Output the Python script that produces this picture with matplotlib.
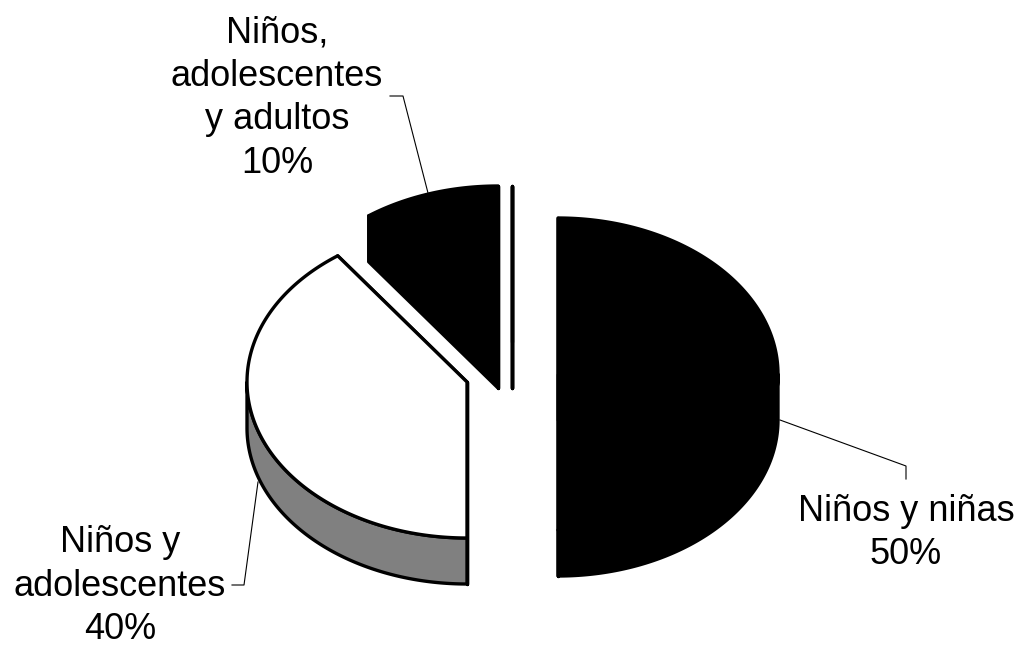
#!/usr/bin/env python3

import numpy as np
import matplotlib
matplotlib.use('Agg')
import matplotlib.pyplot as plt
from matplotlib.patches import Polygon

plt.rcParams['font.family'] = ['Liberation Sans', 'DejaVu Sans']

categories = ['Niños y niñas', 'Niños y\nadolescentes', 'Niños,\nadolescentes\ny adultos', '']
shares = [50, 40, 10, 0]

top_colors = ['black', 'white', 'black', 'black']
side_colors = ['black', '#808080', 'black', 'black']

# where each exploded slice sits on the canvas, in pixels
centers = [(558, 374), (467, 382), (498, 342), (512, 342)]
rx = 220
ry = 156
depth = 46
edge_width = 2.4


def rim(center, angles):
    # angles run clockwise from twelve o'clock
    a = np.radians(angles)
    return np.column_stack([center[0] + rx * np.sin(a), center[1] - ry * np.cos(a)])


def draw_slice(ax, center, start, end, top_color, side_color):
    down = np.array([0, depth])
    wall = dict(edgecolor='black', linewidth=edge_width, joinstyle='round')
    apex = np.array([center])

    # the two cut faces
    for angle in [start, end]:
        edge = np.vstack([apex, rim(center, [angle])])
        ax.add_patch(Polygon(np.vstack([edge, edge[::-1] + down]), facecolor=side_color, **wall))

    # the outer wall, only the part facing the viewer
    front_start = max(start, 90)
    front_end = min(end, 270)
    if front_end > front_start:
        arc = rim(center, np.linspace(front_start, front_end, 120))
        ax.add_patch(Polygon(np.vstack([arc, arc[::-1] + down]), facecolor=side_color, **wall))

    # top face
    arc = rim(center, np.linspace(start, end, 200))
    ax.add_patch(Polygon(np.vstack([apex, arc]), facecolor=top_color, edgecolor='black',
                         linewidth=edge_width, joinstyle='round'))


fig = plt.figure(figsize=(10.23, 6.46), dpi=100)
ax = fig.add_axes([0, 0, 1, 1])
ax.set_xlim(0, 1023)
ax.set_ylim(646, 0)
ax.axis('off')

start = 0
for i in range(len(shares)):
    end = start + shares[i] * 3.6
    draw_slice(ax, centers[i], start, end, top_colors[i], side_colors[i])
    start = end

# leader lines
ax.plot([780, 906, 906], [420, 466, 479], color='black', lw=0.8)
ax.plot([232, 244, 258], [585, 585, 482], color='black', lw=0.8)
ax.plot([390, 403, 428], [96, 96, 193], color='black', lw=0.8)

label_spots = [(906, 533), (120, 586), (277, 98)]
for i in range(3):
    ax.text(label_spots[i][0], label_spots[i][1], f'{categories[i]}\n{shares[i]}%',
            ha='center', va='center', multialignment='center',
            fontsize=26, color='black', linespacing=1.31)

plt.savefig('out.png', dpi=100)
